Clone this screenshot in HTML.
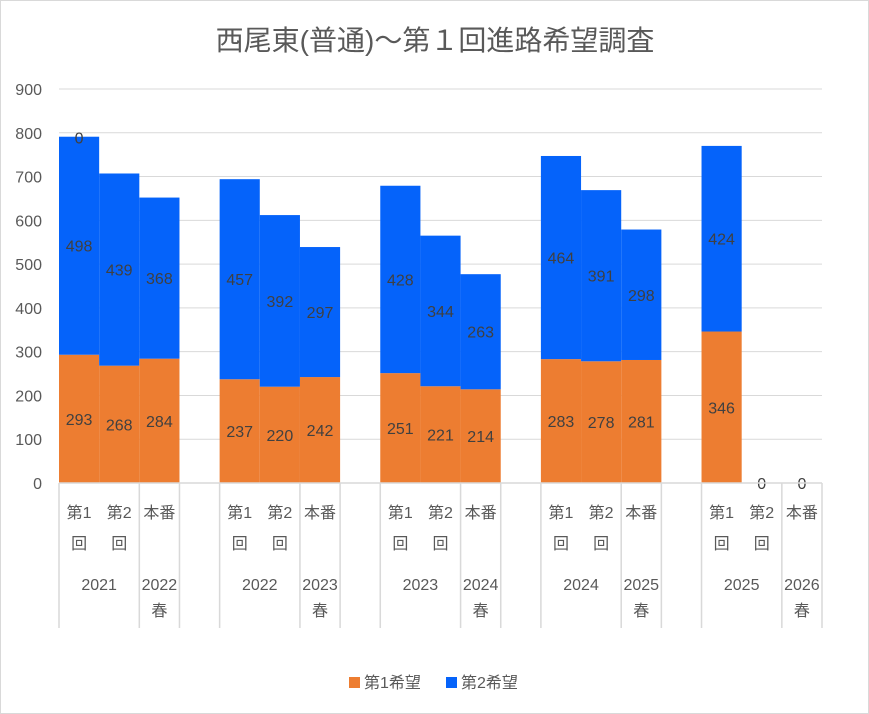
<!DOCTYPE html>
<html><head><meta charset="utf-8"><style>
body{margin:0;background:#fff}
svg{display:block;font-family:"Liberation Sans","Noto Sans CJK JP",sans-serif}
</style></head><body>
<svg id="c" width="869" height="714">
<rect x="0.5" y="0.5" width="868" height="713" fill="#fff" stroke="#d9d9d9"/>
<text x="435" y="50" text-anchor="middle" font-size="28" fill="#595959">西尾東(普通)～第１回進路希望調査</text>
<g id="grid"></g><g id="bars"></g><g id="labels"></g><g id="axis"></g>
<g>
<rect x="349" y="677" width="11" height="11" fill="#ED7D31"/>
<text x="364" y="688" font-size="16" fill="#595959">第1希望</text>
<rect x="446" y="677" width="11" height="11" fill="#0563FA"/>
<text x="461" y="688" font-size="16" fill="#595959">第2希望</text>
</g>
</svg>
<script>
const first=[293,268,284,237,220,242,251,221,214,283,278,281,346,0,0];
const second=[498,439,368,457,392,297,428,344,263,464,391,298,424,0,0];
const yTicks=[0,100,200,300,400,500,600,700,800,900];
const sub1=["第1","第2","本番"];
const sub2=["回","回",""];
const years=["2021","2022","2023","2024","2025"];
const nextYears=["2022","2023","2024","2025","2026"];
const NS="http://www.w3.org/2000/svg";
const X0=59,X1=822,Y0=483,PX=394/900;
const slotW=(X1-X0)/19;
const y=v=>Y0-v*PX;
const slot=i=>Math.floor(i/3)*4+(i%3);
const x=i=>X0+slot(i)*slotW;
function el(p,t,a,txt){const e=document.createElementNS(NS,t);for(const k in a)e.setAttribute(k,a[k]);if(txt!==undefined)e.textContent=txt;document.getElementById(p).appendChild(e);return e;}
yTicks.forEach(v=>{
 const l=el('grid','line',{x1:X0,x2:X1,y1:y(v),y2:y(v),stroke:'#d9d9d9','stroke-width':1});
 
 
 const t=el('grid','text',{x:42,y:y(v)+6,'text-anchor':'end','font-size':16,fill:'#595959'},v);
 
 
});
first.forEach((v,i)=>{
 const b=el('bars','rect',{x:x(i),y:y(v),width:slotW,height:v*PX,fill:'#ED7D31'});
 
 
 const s=second[i];
 const b2=el('bars','rect',{x:x(i),y:y(v+s),width:slotW,height:s*PX,fill:'#0563FA'});
 
 
 if(v>0){const t=el('labels','text',{x:x(i)+slotW/2,y:y(v/2)+6,'text-anchor':'middle','font-size':16,fill:'#404040'},v);
 
 }
 const t2=el('labels','text',{x:x(i)+slotW/2,y:(v+s>0?y(v+s/2)+6:y(0)+6),'text-anchor':'middle','font-size':16,fill:'#404040'},s);
 
 
});
const z=el('labels','text',{x:x(0)+slotW/2,y:y(first[0]+second[0])+7,'text-anchor':'middle','font-size':16,fill:'#404040'},'0');


const al=el('axis','line',{x1:X0,x2:X1,y1:Y0,y2:Y0,stroke:'#d9d9d9','stroke-width':1.5});


[0,2,3,4,6,7,8,10,11,12,14,15,16,18,19].forEach(k=>{
 const l=el('axis','line',{x1:X0+k*slotW,x2:X0+k*slotW,y1:Y0,y2:628,stroke:'#d9d9d9','stroke-width':1.5});
 
 
});
first.forEach((v,i)=>{
 const cx=x(i)+slotW/2;
 const a=el('axis','text',{x:cx,y:518,'text-anchor':'middle','font-size':16,fill:'#595959'},sub1[i%3]);
 
 
 if(sub2[i%3]){const b=el('axis','text',{x:cx,y:549,'text-anchor':'middle','font-size':16,fill:'#595959'},sub2[i%3]);
 
 }
});
years.forEach((yr,g)=>{
 const gx=X0+g*4*slotW;
 const a=el('axis','text',{x:gx+slotW,y:590,'text-anchor':'middle','font-size':16,fill:'#595959'},yr);
 
 
 const b=el('axis','text',{x:gx+2.5*slotW,y:590,'text-anchor':'middle','font-size':16,fill:'#595959'},nextYears[g]);
 
 
 const c=el('axis','text',{x:gx+2.5*slotW,y:616,'text-anchor':'middle','font-size':16,fill:'#595959'},'春');
 
 
});
</script>
</body></html>
